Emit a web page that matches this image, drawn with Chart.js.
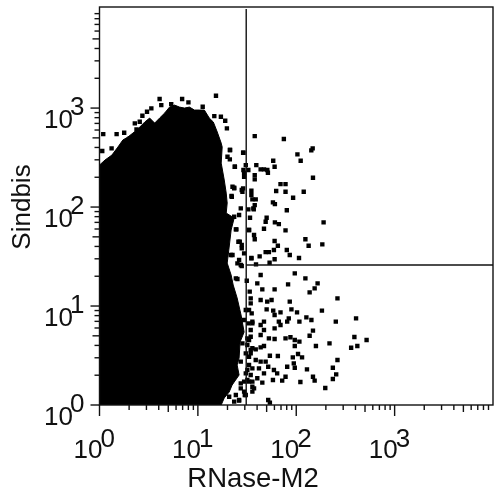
<!DOCTYPE html>
<html>
<head>
<meta charset="utf-8">
<style>
html, body { margin: 0; padding: 0; background: #fff; }
#wrap { position: absolute; left: 0; top: 0; width: 497px; height: 492px; }
</style>
<script src="https://cdn.jsdelivr.net/npm/chart.js@4/dist/chart.umd.min.js"></script>
</head>
<body>
<div id="wrap"><canvas id="dataViz"></canvas></div>
<script>
// everything below is in log10 decades
var massLogX = [0, 0.056, 0.126, 0.187, 0.237, 0.288, 0.379, 0.46, 0.51, 0.561, 0.611, 0.662, 0.712, 0.763, 0.813, 0.864, 0.914, 0.965, 1.015, 1.066, 1.116, 1.157, 1.197, 1.237, 1.247, 1.237, 1.268, 1.288, 1.298, 1.288, 1.369, 1.338, 1.318, 1.298, 1.338, 1.359, 1.399, 1.439, 1.47, 1.429, 1.419, 1.399, 1.419, 1.348, 1.318, 1.268, 1.237, 0];
var massLogY = [2.424, 2.475, 2.525, 2.606, 2.677, 2.707, 2.778, 2.859, 2.899, 2.848, 2.899, 2.949, 3.01, 3.03, 3.01, 3.0, 3.01, 2.98, 2.98, 2.98, 2.899, 2.859, 2.758, 2.646, 2.606, 2.444, 2.273, 2.141, 2.04, 1.939, 1.889, 1.768, 1.596, 1.434, 1.313, 1.212, 1.081, 0.909, 0.737, 0.636, 0.475, 0.404, 0.303, 0.202, 0.131, 0.071, 0, 0];

var eventLogX = [
  1.578, 1.874, 2.167, 2.153, 2.012, 2.045, 1.766, 1.78, 1.594, 1.638, 1.672, 1.706, 1.712, 1.578, 1.578, 1.513, 1.463,
  2.17, 1.84, 1.891, 1.796, 1.891, 2.076, 1.544, 1.544, 1.588, 1.554, 1.968, 1.763, 1.783, 1.578, 1.568, 1.513, 1.904,
  1.53, 1.699, 1.689, 1.783, 1.823, 2.278, 1.672, 1.891, 1.52, 1.571, 1.578, 2.093, 1.78, 2.126, 2.265, 1.813, 1.773,
  1.722, 1.689, 1.904, 1.934, 2.028, 1.78, 1.729, 1.628, 1.544, 1.591,
  1.638, 1.985, 2.093, 2.217, 1.917, 1.604, 1.655, 1.78, 2.187, 2.136, 1.402, 1.497, 2.419, 1.638, 1.705, 1.749, 1.934, 1.537,
  1.699, 1.766, 1.78, 1.84, 1.951, 2.008, 2.261, 1.547, 1.554, 1.672, 1.638, 1.924, 1.908, 1.823, 1.84, 1.78, 2.032, 2.103, 2.154, 2.402, 2.608,
  2.17, 2.136, 1.672, 1.638, 1.722, 1.78, 1.891, 1.941, 1.985, 2.032, 2.591, 2.715, 2.338, 2.621, 2.558, 2.2, 1.985, 1.672, 1.638, 1.588, 1.52, 1.537,
  2.018, 1.965, 2.059, 1.813, 1.732, 1.52, 1.588, 1.638, 1.689, 2.419, 1.975, 1.908, 1.985, 2.372, 2.109, 1.715, 1.554, 1.621, 1.773, 1.806, 2.406, 2.372,
  2.17, 2.187, 1.891, 1.857, 1.763, 2.042, 1.672, 1.604, 1.554, 1.655, 1.52, 2.295, 1.554, 1.436, 1.571, 1.419, 1.715, 1.732, 1.477,
  0.611, 0.628, 1.184, 0.84, 0.904, 0.729, 0.527, 0.483, 0.436, 0.359, 0.409, 0.376, 0.038, 0.174, 0.251, 0.308, 0.028, 0.123,
  1.328, 1.376, 1.295, 1.278, 1.234, 1.167, 1.049, 1.369, 1.345, 1.46, 1.47, 1.446,
  1.325, 1.376, 1.342, 1.392, 1.463, 1.487, 1.47, 1.46, 1.453, 1.436, 1.419, 1.426, 1.446, 1.352, 1.419, 1.446, 1.325, 1.369,
  1.386, 1.436, 1.527, 1.537, 1.487, 1.513, 1.537, 1.503, 1.537, 1.503, 1.47, 1.487,
  1.301, 1.352, 1.386, 1.412, 1.446, 1.47, 1.544, 1.335, 1.402, 1.564, 1.52, 1.369,
  1.52, 1.47, 1.554, 1.537, 1.503, 1.453, 1.487, 1.554, 1.436, 1.52, 1.487, 1.537, 1.436, 1.503, 1.554, 1.386, 1.318, 1.419, 1.369, 1.47
];
var eventLogY = [
  2.717, 2.687, 2.593, 2.573, 2.532, 2.468, 2.468, 2.407, 2.424, 2.381, 2.381, 2.374, 2.347, 2.323, 2.28, 2.374, 2.374,
  2.296, 2.232, 2.232, 2.162, 2.155, 2.155, 2.165, 2.121, 2.078, 2.078, 2.094, 2.047, 2.03, 2.02, 1.977, 1.977, 1.967,
  1.892, 1.892, 1.852, 1.845, 1.828, 1.845, 1.781, 1.764, 1.768, 1.717, 1.674, 1.674, 1.657, 1.609, 1.623, 1.609, 1.566,
  1.545, 1.545, 1.566, 1.515, 1.485, 1.472, 1.437, 1.502, 1.485, 1.421,
  1.313, 1.33, 1.279, 1.229, 1.219, 1.229, 1.168, 1.168, 1.178, 1.138, 1.273, 1.256, 1.077, 1.061, 1.044, 1.061, 1.044, 1.027,
  0.966, 0.953, 0.909, 0.936, 0.966, 0.936, 0.953, 0.926, 0.842, 0.842, 0.808, 0.875, 0.842, 0.842, 0.808, 0.774, 0.842, 0.885, 0.859, 0.842, 0.875,
  0.751, 0.7, 0.758, 0.707, 0.673, 0.667, 0.673, 0.684, 0.657, 0.64, 0.687, 0.657, 0.623, 0.596, 0.579, 0.596, 0.596, 0.596, 0.582, 0.562, 0.657, 0.556,
  0.515, 0.481, 0.481, 0.495, 0.498, 0.488, 0.455, 0.438, 0.438, 0.455, 0.421, 0.387, 0.377, 0.377, 0.36, 0.387, 0.37, 0.37, 0.354, 0.32, 0.31, 0.263,
  0.286, 0.246, 0.286, 0.246, 0.253, 0.232, 0.32, 0.27, 0.236, 0.226, 0.236, 0.172, 0.135, 0.168, 0.168, 0.044, 0.051, 0.024, 0.101,
  3.091, 3.03, 3.125, 3.091, 3.057, 3.04, 2.997, 2.963, 2.923, 2.845, 2.862, 2.785, 2.737, 2.737, 2.751, 2.694, 2.566, 2.593,
  2.576, 2.407, 2.795, 2.872, 2.912, 2.919, 3.013, 2.195, 2.104, 2.548, 2.346, 2.172,
  2.576, 2.407, 2.111, 1.774, 2.549, 2.424, 2.306, 2.189, 2.155, 1.987, 1.919, 1.65, 1.583, 1.515, 1.465, 1.404, 2.482, 2.189,
  1.279, 1.414, 1.145, 1.077, 0.96, 0.825, 0.758, 0.673, 0.522, 0.354, 0.236, 0.101,
  2.508, 2.205, 1.774, 1.65, 1.616, 1.532, 1.482, 1.515, 1.431, 1.987, 1.768, 1.902,
  0.96, 0.859, 0.825, 0.69, 0.606, 0.623, 0.522, 0.573, 0.438, 0.404, 0.32, 0.303, 0.219, 0.253, 0.185, 0.101, 0.084, 0.051, 0.034, 0.135
];

var gateX = 31;
var gateY = 26;
var decades = [0, 1, 2, 3];
var minorSteps = [2, 3, 4, 5, 6, 7, 8, 9];
var xTitle = 'RNase-M2';
var yTitle = 'Sindbis';

function toPoints(logX, logY) {
    return logX.map(function (v, i) {
        return { x: Math.pow(10, v), y: Math.pow(10, logY[i]) };
    });
}

var inkColor = '#111';
var fontFace = '"Liberation Sans", Arial, sans-serif';

// frame, log ticks and the 10^n labels, all placed with the chart's scales
var axisDecor = {
    id: 'axisDecor',
    afterDraw: function (chart) {
        var c = chart.ctx, area = chart.chartArea;
        var sx = chart.scales.x, sy = chart.scales.y;
        c.save();
        c.strokeStyle = inkColor;
        c.fillStyle = inkColor;
        c.lineWidth = 1.4;
        c.strokeRect(area.left, area.top, area.right - area.left, area.bottom - area.top);

        function xTick(v, len) {
            var p = sx.getPixelForValue(v);
            c.beginPath(); c.moveTo(p, area.bottom); c.lineTo(p, area.bottom + len); c.stroke();
        }
        function yTick(v, len) {
            var p = sy.getPixelForValue(v);
            c.beginPath(); c.moveTo(area.left, p); c.lineTo(area.left - len, p); c.stroke();
        }
        decades.forEach(function (d) {
            var base = Math.pow(10, d);
            xTick(base, 11);
            yTick(base, 9);
            minorSteps.forEach(function (m) {
                xTick(base * m, m === 5 ? 7 : 5);
                yTick(base * m, m === 5 ? 7 : 5);
            });
        });

        c.font = '26px ' + fontFace;
        c.textBaseline = 'alphabetic';
        decades.forEach(function (d) {
            var base = Math.pow(10, d);
            var px = sx.getPixelForValue(base);
            c.textAlign = 'right';
            c.fillText('10', px + 3, 458);
            c.textAlign = 'left';
            c.fillText(String(d), px + 1, 447);
            var py = sy.getPixelForValue(base);
            c.textAlign = 'right';
            c.fillText('10', 73, py + 20);
            c.textAlign = 'left';
            c.fillText(String(d), 70, py + 7);
        });

        c.textAlign = 'center';
        c.save();
        c.font = '27.5px ' + fontFace;
        c.fillText(xTitle, 253, 487);
        c.restore();
        c.translate(30, 207);
        c.rotate(-Math.PI / 2);
        c.fillText(yTitle, 0, 0);
        c.restore();
    }
};

var ctx = document.getElementById('dataViz');
var myChart = new Chart(ctx, {
    type: 'scatter',
    data: {
        datasets: [{
            label: 'Gate X',
            data: [{ x: gateX, y: 1 }, { x: gateX, y: 10000 }],
            showLine: true,
            borderColor: inkColor,
            borderWidth: 1.4,
            pointRadius: 0
        }, {
            label: 'Gate Y',
            data: [{ x: gateX, y: gateY }, { x: 10000, y: gateY }],
            showLine: true,
            borderColor: inkColor,
            borderWidth: 1.4,
            pointRadius: 0
        }, {
            label: 'Dense events',
            data: toPoints(massLogX, massLogY),
            showLine: true,
            fill: 'shape',
            tension: 0,
            backgroundColor: '#000',
            borderColor: '#000',
            borderWidth: 1,
            pointRadius: 0
        }, {
            label: 'Events',
            data: toPoints(eventLogX, eventLogY),
            pointStyle: 'rect',
            pointRadius: 3.1,
            pointBorderWidth: 0,
            backgroundColor: '#000'
        }]
    },
    options: {
        responsive: true,
        maintainAspectRatio: false,
        animation: false,
        layout: { padding: { left: 99.5, top: 7, right: 2, bottom: 87 } },
        plugins: { legend: { display: false }, tooltip: { enabled: false } },
        scales: {
            x: { type: 'logarithmic', display: false, min: 1, max: 10000 },
            y: { type: 'logarithmic', display: false, min: 1, max: 10500 }
        }
    },
    plugins: [axisDecor]
});
</script>
</body>
</html>
